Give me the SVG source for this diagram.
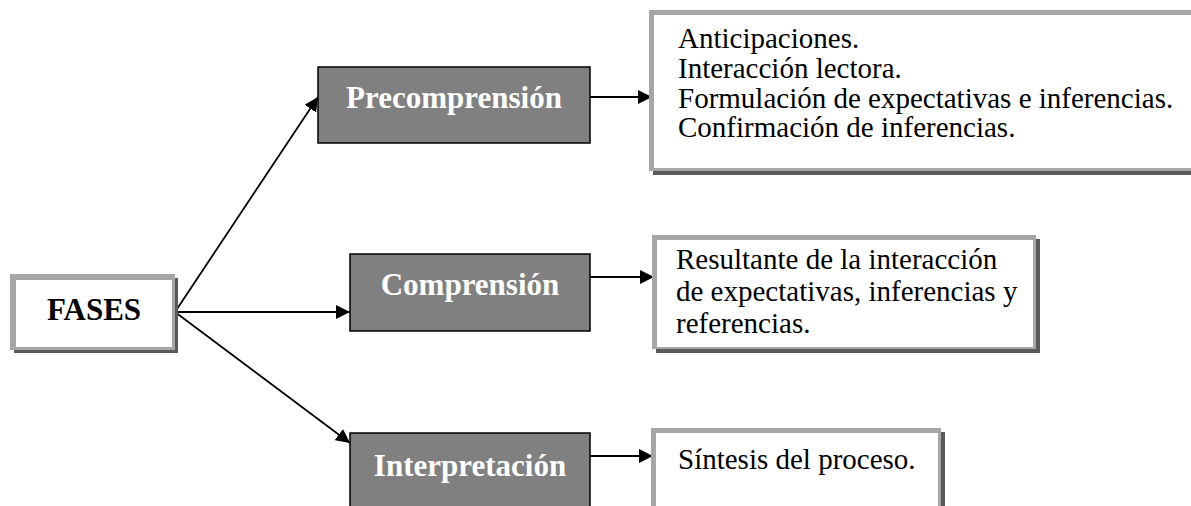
<svg xmlns="http://www.w3.org/2000/svg" width="1191" height="506" viewBox="0 0 1191 506">
<style>
.shadow{fill:#5a5a5a}
.frame{fill:#a6a6a6}
.inner{fill:#ffffff}
.phase{fill:#808080;stroke:#000;stroke-width:1.5}
.lbl{font-family:"Liberation Serif","Times New Roman",serif;font-weight:bold;font-size:31px;fill:#fff;text-anchor:middle}
.root{font-family:"Liberation Serif","Times New Roman",serif;font-weight:bold;font-size:31px;fill:#000;text-anchor:middle}
.txt{font-family:"Liberation Serif","Times New Roman",serif;font-size:29px;fill:#000}
.conn{stroke:#000;stroke-width:1.8;fill:none}
</style>
<defs>
<marker id="arr" markerUnits="userSpaceOnUse" markerWidth="16" markerHeight="14" refX="14" refY="7" orient="auto">
<path d="M0,0 L14,7 L0,14 Z" fill="#000"/>
</marker>
</defs>
<rect width="1191" height="506" fill="#fff"/>

<g id="connectors">
<line class="conn" x1="175" y1="312" x2="318" y2="97" marker-end="url(#arr)"/>
<line class="conn" x1="175" y1="312" x2="350" y2="312" marker-end="url(#arr)"/>
<line class="conn" x1="175" y1="312" x2="350" y2="443" marker-end="url(#arr)"/>
<line class="conn" x1="590" y1="97" x2="652" y2="97" marker-end="url(#arr)"/>
<line class="conn" x1="590" y1="277" x2="654" y2="277" marker-end="url(#arr)"/>
<line class="conn" x1="590" y1="456" x2="653" y2="456" marker-end="url(#arr)"/>
</g>

<g id="fases">
<rect class="shadow" x="14" y="278" width="164" height="75"/>
<rect class="frame" x="10" y="274" width="165" height="76"/>
<rect class="inner" x="16" y="280" width="156" height="67"/>
<text class="root" x="94" y="320">FASES</text>
</g>

<g id="precomprension">
<rect class="phase" x="318" y="67" width="272" height="76"/>
<text class="lbl" x="454" y="108">Precomprensión</text>
</g>

<g id="comprension">
<rect class="phase" x="350" y="254" width="240" height="77"/>
<text class="lbl" x="470" y="295">Comprensión</text>
</g>

<g id="interpretacion">
<rect class="phase" x="350" y="433" width="240" height="80"/>
<text class="lbl" x="470" y="476">Interpretación</text>
</g>

<g id="box-pre">
<rect class="shadow" x="653" y="14" width="560" height="161"/>
<rect class="frame" x="649" y="10" width="560" height="161"/>
<rect class="inner" x="654" y="15" width="560" height="153"/>
<text class="txt" x="678" y="48">Anticipaciones.</text>
<text class="txt" x="678" y="78">Interacción lectora.</text>
<text class="txt" x="678" y="108">Formulación de expectativas e inferencias.</text>
<text class="txt" x="678" y="137">Confirmación de inferencias.</text>
</g>

<g id="box-comp">
<rect class="shadow" x="656" y="239" width="384" height="114"/>
<rect class="frame" x="652" y="235" width="384" height="114"/>
<rect class="inner" x="657" y="240" width="376" height="107"/>
<text class="txt" x="676" y="269">Resultante de la interacción</text>
<text class="txt" x="676" y="301">de expectativas, inferencias y</text>
<text class="txt" x="676" y="333">referencias.</text>
</g>

<g id="box-int">
<rect class="shadow" x="655" y="432" width="290" height="90"/>
<rect class="frame" x="651" y="428" width="290" height="90"/>
<rect class="inner" x="656" y="433" width="282" height="90"/>
<text class="txt" x="678" y="469">Síntesis del proceso.</text>
</g>
</svg>
